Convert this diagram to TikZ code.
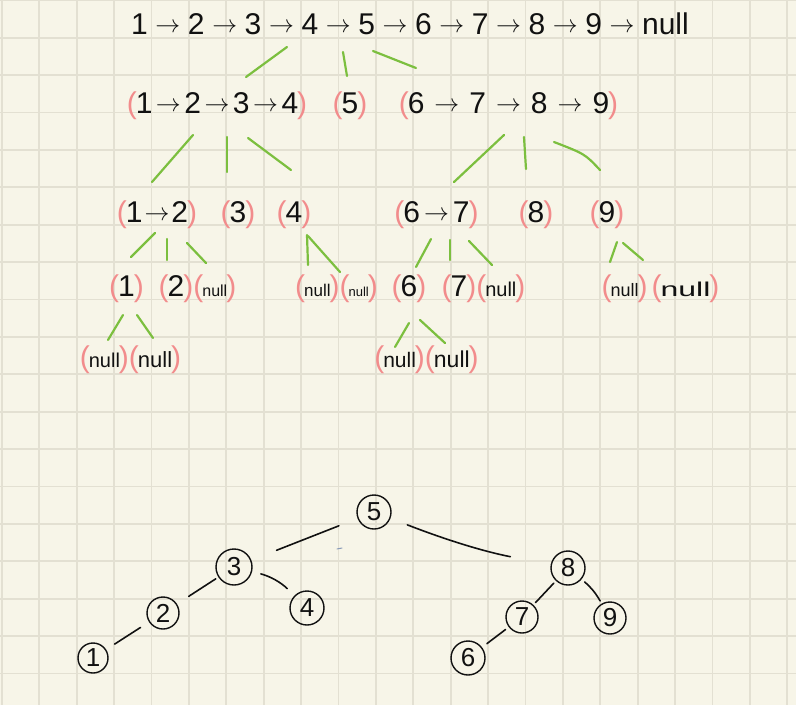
\documentclass[tikz,border=0pt]{standalone}
\usepackage{fontspec}
\setmainfont{Liberation Sans}
\definecolor{bgc}{HTML}{F7F5E8}
\definecolor{gridc}{HTML}{E3E0D2}
\definecolor{pk}{HTML}{F28C8C}
\definecolor{gr}{HTML}{7CBF3F}
\definecolor{ink}{HTML}{111111}
\definecolor{stray}{HTML}{8A9BB8}
\newcommand\plp{{\color{pk}\fontsize{30}{30}\selectfont(}\hspace{-1pt}}
\newcommand\prp{\hspace{-1pt}{\color{pk}\fontsize{30}{30}\selectfont)}}
\newcommand\harr[1][4pt]{\hspace{#1}\raisebox{2pt}{\fontsize{26}{26}\selectfont$\rightarrow$}\hspace{#1}}
\newcommand\nulltxt[1]{{\fontsize{#1}{#1}\selectfont null}}
\tikzset{
  grp/.style={inner sep=0pt, anchor=base, text=ink, font=\fontsize{30}{30}\selectfont},
  gline/.style={draw=gr, line width=2.2pt, line cap=round},
  tnode/.style={circle, draw=ink, line width=1.4pt, inner sep=0pt, text=ink, font=\fontsize{26}{26}\selectfont},
  tedge/.style={draw=ink, line width=1.6pt, line cap=round},
  gridline/.style={draw=gridc, line width=1.8pt},
}
\begin{document}
\begin{tikzpicture}[x=1pt,y=-1pt]
\useasboundingbox (0,0) rectangle (796,705);
\fill[bgc] (0,0) rectangle (796,705);
\foreach \i in {0,...,21} \draw[gridline] ({1.9+37.4*\i},0) -- ({1.9+37.4*\i},705);
\foreach \j in {0,...,18} \draw[gridline] (0,{0.3+37.4*\j}) -- (796,{0.3+37.4*\j});

% row 1
\node[grp] (r1) at (410,34) {1\harr[7.6pt]2\harr[7.6pt]3\harr[7.6pt]4\harr[7.6pt]5\harr[7.6pt]6\harr[7.6pt]7\harr[7.6pt]8\harr[7.6pt]9\harr[7.6pt]null};
% row 2
\node[grp] (r2a) at (217,113) {\plp 1\harr[3.5pt]2\harr[3.5pt]3\harr[3.5pt]4\prp};
\node[grp] (r2b) at (350,113) {\plp 5\prp};
\node[grp] (r2c) at (508.5,113) {\plp 6\harr[10pt]7\harr[10pt]8\harr[10pt]9\prp};
% row 3
\node[grp] (r3a) at (157,222) {\plp 1\harr[2pt]2\prp};
\node[grp] (r3b) at (238,222) {\plp 3\prp};
\node[grp] (r3c) at (294,222) {\plp 4\prp};
\node[grp] (r3d) at (436.5,222) {\plp 6\harr[4pt]7\prp};
\node[grp] (r3e) at (536,222) {\plp 8\prp};
\node[grp] (r3f) at (607,222) {\plp 9\prp};
% row 4
\node[grp] (r4a) at (126.5,296) {\plp 1\prp};
\node[grp] (r4b) at (197.5,296) {\plp 2\prp\plp\nulltxt{16}\prp};
\node[grp] (r4c) at (336.5,296) {\plp\nulltxt{17}\prp\plp\nulltxt{13}\prp};
\node[grp] (r4d) at (409,296) {\plp 6\prp};
\node[grp] (r4e) at (483.5,296) {\plp 7\prp\plp\nulltxt{20}\prp};
\node[grp] (r4f) at (660.5,296) {\plp\nulltxt{18}\prp\hspace{4pt}\plp\scalebox{1.6}[1]{\nulltxt{20}}\prp};
% row 5
\node[grp] (r5a) at (130.5,367) {\plp\nulltxt{20}\prp\plp\nulltxt{22}\prp};
\node[grp] (r5b) at (426.5,367) {\plp\nulltxt{21}\prp\plp\nulltxt{23}\prp};

% green strokes
\draw[gline] (287,47) -- (246,77);
\draw[gline] (343,52) -- (347,76);
\draw[gline] (373,51) -- (416,68);
\draw[gline] (193,135) -- (152,182);
\draw[gline] (227,137) -- (227,172);
\draw[gline] (248,138) -- (291,170);
\draw[gline] (504,135) -- (454,182);
\draw[gline] (524,137) -- (526,169);
\draw[gline] (554,142) .. controls (585,154) .. (600,170);
\draw[gline] (155,233) -- (131,257);
\draw[gline] (167,239) -- (167,260);
\draw[gline] (187,243) -- (206,263);
\draw[gline] (307,235) -- (308,265);
\draw[gline] (308,236) -- (340,272);
\draw[gline] (431,239) -- (416,267);
\draw[gline] (450,240) -- (450,260);
\draw[gline] (469,241) -- (492,265);
\draw[gline] (617,242) -- (610,262);
\draw[gline] (623,243) -- (643,260);
\draw[gline] (123,315) -- (108,340);
\draw[gline] (137,315) -- (153,338);
\draw[gline] (409,323) -- (395,347);
\draw[gline] (420,320) -- (445,343);

% bottom tree
\node[tnode, minimum size=34pt] (n5) at (374,512) {5};
\node[tnode, minimum size=36pt] (n3) at (234,567) {3};
\node[tnode, minimum size=32pt] (n2) at (163,613) {2};
\node[tnode, minimum size=30pt] (n1) at (93,658) {1};
\node[tnode, minimum size=34pt] (n4) at (307,608) {4};
\node[tnode, minimum size=34pt] (n8) at (568,568) {8};
\node[tnode, minimum size=32pt] (n7) at (522,617) {7};
\node[tnode, minimum size=32pt] (n9) at (610,618) {9};
\node[tnode, minimum size=34pt] (n6) at (468,658) {6};

\draw[tedge, shorten <=20pt, shorten >=27pt] (n5) -- (n3);
\draw[tedge, shorten <=3pt, shorten >=14pt] (n3) -- (n2);
\draw[tedge, shorten <=10pt, shorten >=10pt] (n2) -- (n1);
\draw[tedge, shorten <=9pt, shorten >=10pt] (n3) to[bend left=15] (n4);
\draw[tedge, shorten <=18pt, shorten >=41pt] (n5) to[bend right=5] (n8);
\draw[tedge, shorten <=3pt, shorten >=3pt] (n8) -- (n7);
\draw[tedge, shorten <=4pt, shorten >=3pt] (n8) to[bend left=10] (n9);
\draw[tedge, shorten <=4pt, shorten >=6pt] (n7) -- (n6);
\draw[stray, line width=1pt, line cap=round] (337,549) -- (342,548);
\end{tikzpicture}
\end{document}
